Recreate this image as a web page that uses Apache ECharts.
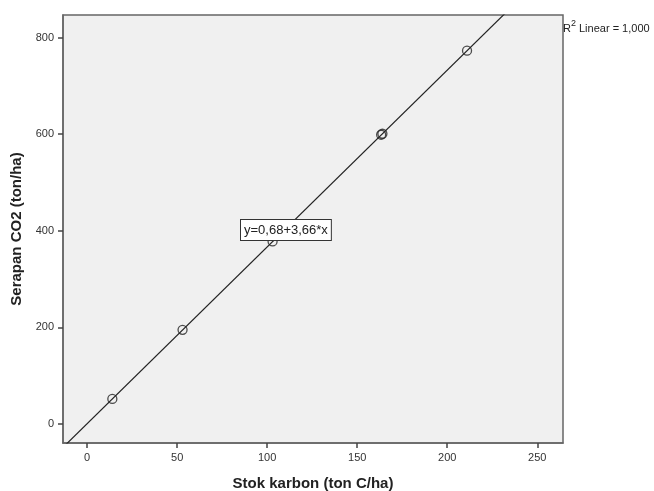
<!DOCTYPE html>
<html>
<head>
<meta charset="utf-8">
<script src="https://cdn.jsdelivr.net/npm/echarts@6/dist/echarts.min.js"></script>
<style>html,body{margin:0;padding:0;background:#fff;}#c{width:654px;height:491px;}</style>
</head>
<body>
<div id="c"></div>
<script>
// Data
const stokKarbon = [14.0, 53.0, 103.0, 163.3, 164.0, 211.0];
const serapanCO2 = [52, 195, 378, 599, 601, 773];
const xTicks = [0, 50, 100, 150, 200, 250];
const yTicks = [0, 200, 400, 600, 800];
const fitIntercept = 0.68;
const fitSlope = 3.66;
const xRange = [-13.4, 264.3];
const yRange = [-39.3, 846.9];

const FONT = '"Liberation Sans", Arial, sans-serif';
const chart = echarts.init(document.getElementById('c'), null, {renderer: 'canvas'});

const points = stokKarbon.map((x, i) => [x, serapanCO2[i]]);
const fitLine = xRange.map(x => [x, fitIntercept + fitSlope * x]);

chart.setOption({
  animation: false,
  backgroundColor: '#ffffff',
  grid: {
    left: 63, right: 91, top: 15, bottom: 48,
    containLabel: false, outerBoundsMode: 'none',
    show: true, backgroundColor: '#f0f0f0',
    borderColor: '#666', borderWidth: 1.5
  },
  xAxis: {
    type: 'value', min: xRange[0], max: xRange[1],
    name: 'Stok karbon (ton C/ha)', nameLocation: 'middle', nameGap: 33,
    nameTextStyle: {fontFamily: FONT, fontWeight: 'bold', fontSize: 15, color: '#222'},
    axisLine: {show: true, onZero: false, lineStyle: {color: '#666', width: 1.5}},
    axisTick: {show: true, length: 5, customValues: xTicks, lineStyle: {color: '#444', width: 1.5}},
    axisLabel: {customValues: xTicks, fontFamily: FONT, fontSize: 11, color: '#333', margin: 9},
    splitLine: {show: false}
  },
  yAxis: {
    type: 'value', min: yRange[0], max: yRange[1],
    name: 'Serapan CO2 (ton/ha)', nameLocation: 'middle', nameGap: 34, nameRotate: 90,
    nameTextStyle: {fontFamily: FONT, fontWeight: 'bold', fontSize: 15, color: '#222'},
    axisLine: {show: true, onZero: false, lineStyle: {color: '#666', width: 1.5}},
    axisTick: {show: true, length: 5, customValues: yTicks, lineStyle: {color: '#444', width: 1.5}},
    axisLabel: {customValues: yTicks, fontFamily: FONT, fontSize: 11, color: '#333', margin: 9},
    splitLine: {show: false}
  },
  series: [
    {
      type: 'line', data: fitLine, symbol: 'none', clip: true,
      lineStyle: {color: '#222', width: 1.2}, z: 2
    },
    {
      type: 'scatter', data: points, symbol: 'circle', symbolSize: 9,
      itemStyle: {color: 'rgba(0,0,0,0)', borderColor: '#222', borderWidth: 1.3}, z: 3
    }
  ],
  graphic: [
    {
      type: 'text', left: 240, top: 219, z: 10,
      style: {
        text: 'y=0,68+3,66*x', font: '13px ' + FONT, fill: '#222',
        backgroundColor: '#ffffff', borderColor: '#333', borderWidth: 1,
        padding: [4, 3, 3, 3]
      }
    },
    {
      type: 'text', left: 563, top: 19, z: 10,
      style: {
        text: '{r|R}{s|2}{r| Linear = 1,000}',
        rich: {
          r: {font: '11px ' + FONT, fill: '#222', verticalAlign: 'bottom'},
          s: {font: '9px ' + FONT, fill: '#222', verticalAlign: 'top', padding: [0, 0, 6, 0]}
        }
      }
    }
  ]
});
</script>
</body>
</html>
